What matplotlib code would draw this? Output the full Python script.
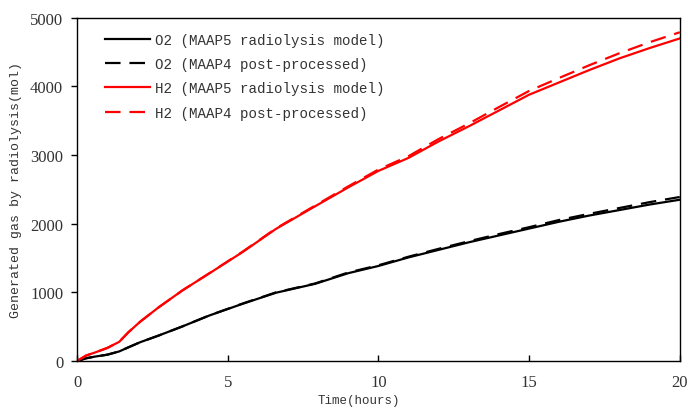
import numpy as np
import matplotlib
matplotlib.use('Agg')
import matplotlib.pyplot as plt

plt.rcParams['font.family'] = 'Liberation Mono'
plt.rcParams['xtick.direction'] = 'in'
plt.rcParams['ytick.direction'] = 'out'

# Time, hours
t = [0, 0.3, 0.6, 1.0, 1.4, 1.7, 2.1, 2.7, 3.5, 4.4, 5.5, 6.6, 7.9, 9, 10,
     11, 12, 13, 14, 15, 16, 17, 18, 19, 20]

# O2, mol
o2_maap5 = [0, 40, 65, 92, 140, 199, 275, 370, 505, 665, 835, 995, 1125, 1280, 1385,
            1510, 1620, 1730, 1830, 1930, 2030, 2120, 2200, 2280, 2350]
o2_maap4 = [0, 40, 65, 92, 140, 199, 275, 370, 505, 667, 838, 1000, 1130, 1290, 1395,
            1520, 1635, 1745, 1850, 1950, 2055, 2145, 2230, 2315, 2390]

# H2, mol
h2_maap5 = [0, 80, 125, 190, 280, 418, 575, 780, 1030, 1280, 1590, 1925, 2255, 2530, 2770,
            2960, 3200, 3420, 3650, 3880, 4060, 4240, 4410, 4560, 4700]
h2_maap4 = [0, 80, 125, 190, 280, 418, 575, 780, 1030, 1282, 1595, 1932, 2265, 2545, 2790,
            2985, 3235, 3460, 3700, 3935, 4125, 4310, 4485, 4645, 4790]

fig = plt.figure(figsize=(6.88, 4.10), dpi=100)
ax = fig.add_axes([0.112, 0.117, 0.876, 0.837])

ax.plot(t, o2_maap5, color='black', lw=1.6, label='O2 (MAAP5 radiolysis model)')
ax.plot(t, o2_maap4, color='black', lw=1.6, dashes=(7, 4), label='O2 (MAAP4 post-processed)')
ax.plot(t, h2_maap5, color='red', lw=1.6, label='H2 (MAAP5 radiolysis model)')
ax.plot(t, h2_maap4, color='red', lw=1.6, dashes=(7, 4), label='H2 (MAAP4 post-processed)')

ax.set_xlim(0, 20)
ax.set_ylim(0, 5000)
ax.set_xticks([0, 5, 10, 15, 20])
ax.set_yticks([0, 1000, 2000, 3000, 4000, 5000])
ax.tick_params(axis='x', pad=9)
ax.tick_params(axis='y', pad=6)
ax.tick_params(axis='both', length=4, width=1, colors='black', labelcolor='#333333')
for lab in ax.get_xticklabels() + ax.get_yticklabels():
    lab.set_family('Liberation Serif')
    lab.set_fontsize(12)
for s in ax.spines.values():
    s.set_linewidth(1.0)
    s.set_color('black')

ax.set_xlabel('Time(hours)', fontsize=9, color='#333333', labelpad=2)
ax.xaxis.set_label_coords(0.468, -0.095)
ax.set_ylabel('Generated gas by radiolysis(mol)', fontsize=9.5, color='#333333', labelpad=6)

leg = ax.legend(loc='upper left', bbox_to_anchor=(0.03, 0.985), frameon=False,
                fontsize=10.2, handlelength=3.2, handletextpad=0.3,
                labelspacing=0.72, borderaxespad=0.3)
for txt in leg.get_texts():
    txt.set_color('#333333')

fig.savefig('out.png', dpi=100)
